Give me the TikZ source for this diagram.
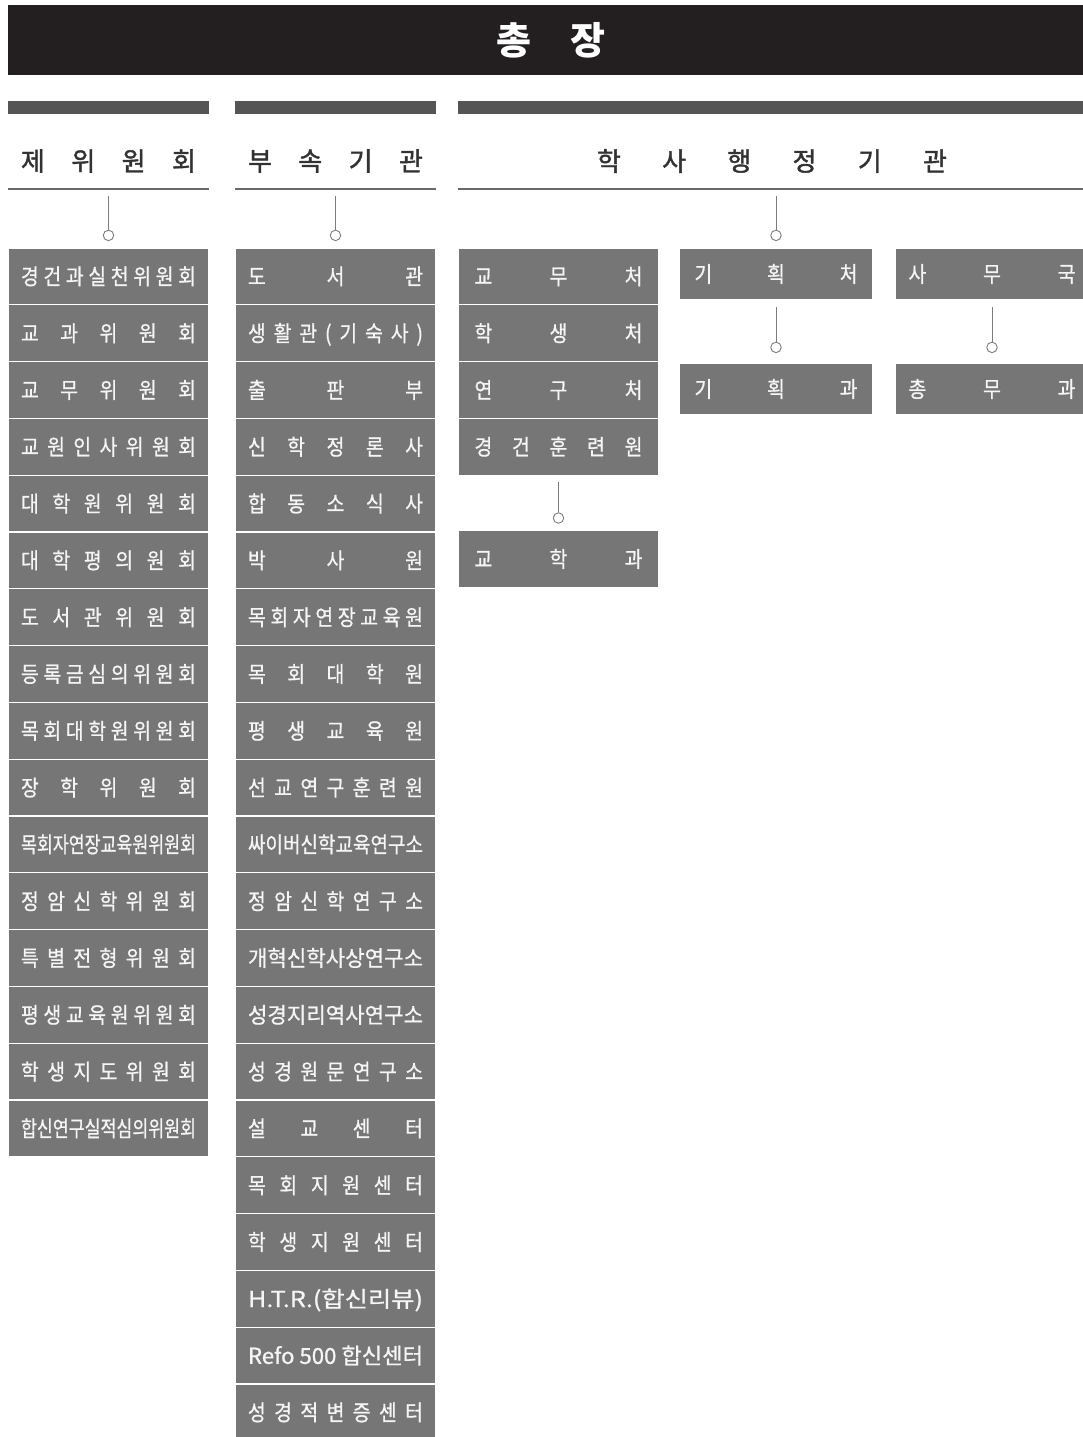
\documentclass[tikz,border=0pt]{standalone}
\usepackage{fontspec}
\usepackage{graphicx}
\setmainfont{Noto Sans CJK KR}
\newfontfamily\krbox[FakeStretch=0.88,FakeBold=0.8]{Noto Sans CJK KR}
\newfontfamily\krhead[FakeBold=1.6]{Noto Sans CJK KR}
\usetikzlibrary{arrows.meta}

\definecolor{barblack}{RGB}{35,31,32}
\definecolor{bargray}{RGB}{85,85,85}
\definecolor{linegray}{RGB}{105,105,105}
\definecolor{conngray}{RGB}{125,125,125}
\definecolor{boxgray}{RGB}{118,118,118}
\definecolor{boxtext}{RGB}{245,245,245}
\definecolor{headgray}{RGB}{50,50,50}

\newlength\spreadw
\newcommand\spread[2]{\setlength\spreadw{#1}\makebox[#1][s]{\spaceskip=0pt plus 1fil\xspaceskip=0pt plus 1fil\relax#2}}
\newcommand\fitw[1]{\hfil\resizebox{\spreadw}{\height}{\spaceskip=0pt\xspaceskip=0pt\relax#1}\hfil}

\begin{document}
\begin{tikzpicture}[x=1pt, y=-1pt,
	rowbox/.style={fill=boxgray, draw=white, line width=1.2pt, minimum width=201pt, minimum height=56.8pt, inner sep=0pt, text=boxtext, font=\krbox\fontsize{22}{26}\selectfont, text height=18pt, text depth=1.5pt},
	subbox/.style={rowbox, minimum width=194pt, minimum height=52pt},
	headtxt/.style={text=headgray, font=\krhead\fontsize{26}{30}\selectfont, inner sep=0pt},
	ring/.style={circle, draw=conngray, fill=white, line width=0.9pt, minimum size=10.5pt, inner sep=0pt},
	conn/.style={draw=conngray, line width=0.9pt}]
	\useasboundingbox (0,0) rectangle (1083,1437);
	% top bar
	\fill[barblack] (8,5) rectangle (1090,75);
	\node[text=white, font=\bfseries\fontsize{38}{44}\selectfont] (boss) at (551,40) {총\hspace{40pt}장};
	% bars, headings, rules
	\foreach \xa/\xb in {8/209, 235/436, 458/1090} {
		\fill[bargray] (\xa,101) rectangle (\xb,114);
		\fill[linegray] (\xa,188) rectangle (\xb,190);
	}
	\node[headtxt] (hd1) at (108.5,161) {\spread{175pt}{제 위 원 회}};
	\node[headtxt] (hd2) at (335.5,161) {\spread{175pt}{부 속 기 관}};
	\node[headtxt] (hd3) at (772,161) {\spread{350pt}{학 사 행 정 기 관}};
	\coordinate (h1) at (108.5,189);
	\coordinate (h2) at (335.5,189);
	\coordinate (h3) at (776,189);
	% committees
	\foreach \l [count=\i] in {{경 건 과 실 천 위 원 회}, {교 과 위 원 회}, {교 무 위 원 회}, {교 원 인 사 위 원 회}, {대 학 원 위 원 회}, {대 학 평 의 원 회}, {도 서 관 위 원 회}, {등 록 금 심 의 위 원 회}, {목 회 대 학 원 위 원 회}, {장 학 위 원 회}, {\fitw{목회자연장교육원위원회}}, {정 암 신 학 위 원 회}, {특 별 전 형 위 원 회}, {평 생 교 육 원 위 원 회}, {학 생 지 도 위 원 회}, {\fitw{합신연구실적심의위원회}}}
		\node[rowbox] (a\i) at (108.5,{219.6+56.8*\i}) {\spread{175pt}{\l}};
	% affiliated
	\foreach \l [count=\i] in {{도 서 관}, {생 활 관 ( 기 숙 사 )}, {출 판 부}, {신 학 정 론 사}, {합 동 소 식 사}, {박 사 원}, {목 회 자 연 장 교 육 원}, {목 회 대 학 원}, {평 생 교 육 원}, {선 교 연 구 훈 련 원}, {\fitw{싸이버신학교육연구소}}, {정 암 신 학 연 구 소}, {\fitw{개혁신학사상연구소}}, {\fitw{성경지리역사연구소}}, {성 경 원 문 연 구 소}, {설 교 센 터}, {목 회 지 원 센 터}, {학 생 지 원 센 터}, {\fitw{H.T.R.(합신리뷰)}}, {\fitw{Refo 500 합신센터}}, {성 경 적 변 증 센 터}}
		\node[rowbox] (b\i) at (335.5,{219.6+56.8*\i}) {\spread{175pt}{\l}};
	% academic administration
	\foreach \l [count=\i] in {{교 무 처}, {학 생 처}, {연 구 처}, {경 건 훈 련 원}}
		\node[rowbox] (c\i) at (558.5,{219.6+56.8*\i}) {\spread{168pt}{\l}};
	\node[rowbox] (c5) at (558.5,559) {\spread{168pt}{교 학 과}};
	\node[subbox] (p1) at (776,274) {\spread{163pt}{기 획 처}};
	\node[subbox] (p2) at (776,389) {\spread{163pt}{기 획 과}};
	\node[subbox] (g1) at (992,274) {\spread{167pt}{사 무 국}};
	\node[subbox] (g2) at (992,389) {\spread{167pt}{총 무 과}};
	% connectors with rings
	\foreach \s/\t/\d [count=\k] in {h1/a1/12, h2/b1/12, h3/p1/12, c4.south/c5/12, p1.south/p2/15, g1.south/g2/15} {
		\node[ring] (r\k) at ([yshift=\d pt]\t.north) {};
		\draw[conn] ([yshift=-6.5pt]\s) -- (r\k);
	}
\end{tikzpicture}
\end{document}
